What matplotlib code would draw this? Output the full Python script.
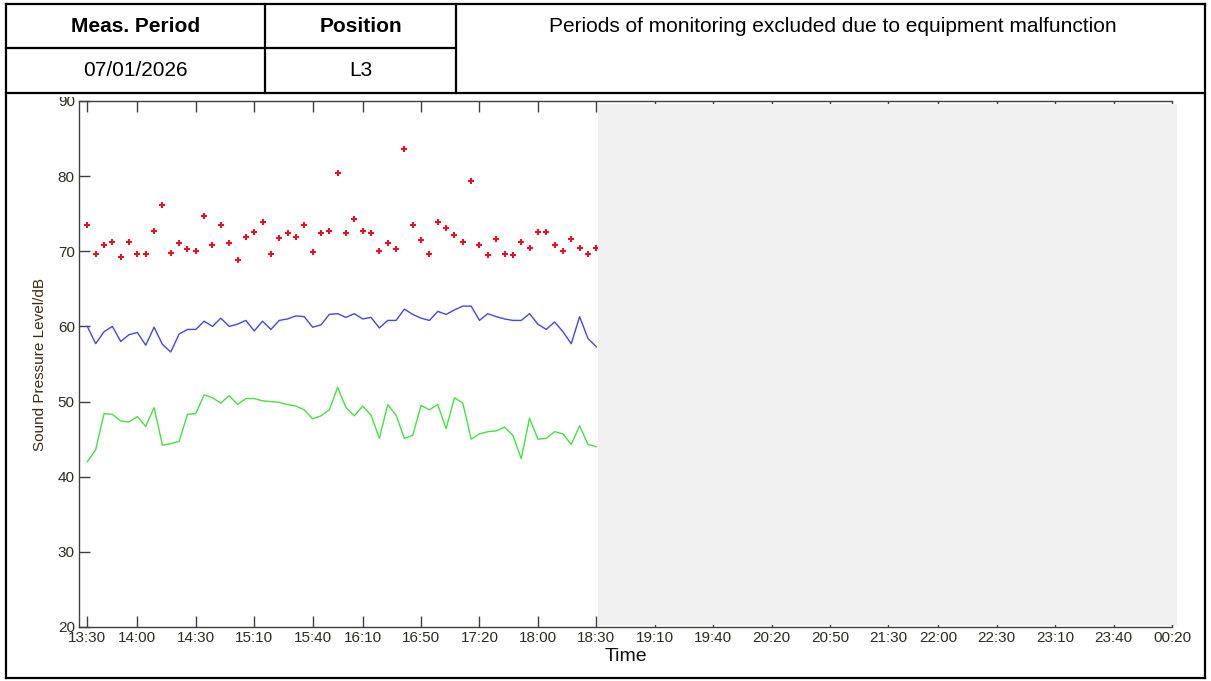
import matplotlib
matplotlib.use("Agg")
import matplotlib.pyplot as plt
from matplotlib import font_manager
from matplotlib.lines import Line2D
from matplotlib.patches import Rectangle

# ---- data -------------------------------------------------------------
meas_period = "07/01/2026"
position = "L3"
note = "Periods of monitoring excluded due to equipment malfunction"

tick_index = [0, 6, 13, 20, 27, 33, 40, 47, 54, 61,
              68, 75, 82, 89, 96, 102, 109, 116, 123, 130]
tick_labels = ["13:30", "14:00", "14:30", "15:10", "15:40", "16:10", "16:50",
               "17:20", "18:00", "18:30", "19:10", "19:40", "20:20", "20:50",
               "21:30", "22:00", "22:30", "23:10", "23:40", "00:20"]

lmax = [73.5, 69.7, 70.9, 71.3, 69.3, 71.3, 69.7, 69.7, 72.7, 76.2,
        69.8, 71.1, 70.3, 70.0, 74.7, 70.8, 73.5, 71.1, 68.9, 71.9,
        72.6, 73.9, 69.6, 71.8, 72.5, 71.9, 73.5, 69.9, 72.4, 72.7,
        80.4, 72.4, 74.3, 72.7, 72.4, 70.0, 71.1, 70.3, 83.6, 73.5,
        71.5, 69.7, 73.9, 73.1, 72.2, 71.2, 79.3, 70.8, 69.5, 71.6,
        69.7, 69.5, 71.3, 70.5, 72.6, 72.6, 70.9, 70.0, 71.6, 70.4,
        69.7, 70.4]

leq = [60.0, 57.7, 59.3, 60.0, 58.0, 58.9, 59.2, 57.5, 59.9, 57.6,
       56.6, 59.0, 59.6, 59.6, 60.7, 60.0, 61.1, 60.0, 60.3, 60.8,
       59.4, 60.7, 59.6, 60.8, 61.0, 61.4, 61.3, 59.9, 60.2, 61.6,
       61.7, 61.2, 61.7, 61.0, 61.2, 59.8, 60.8, 60.8, 62.3, 61.6,
       61.1, 60.8, 62.0, 61.6, 62.2, 62.7, 62.7, 60.8, 61.7, 61.3,
       61.0, 60.8, 60.8, 61.7, 60.3, 59.6, 60.6, 59.3, 57.7, 61.3,
       58.4, 57.3]

l90 = [42.0, 43.6, 48.4, 48.3, 47.4, 47.3, 48.0, 46.7, 49.2, 44.2,
       44.4, 44.7, 48.3, 48.4, 50.9, 50.5, 49.8, 50.8, 49.6, 50.4,
       50.4, 50.1, 50.0, 49.9, 49.6, 49.4, 48.9, 47.7, 48.1, 48.9,
       51.9, 49.2, 48.1, 49.4, 48.2, 45.1, 49.6, 48.2, 45.1, 45.5,
       49.5, 48.9, 49.6, 46.4, 50.5, 49.8, 45.0, 45.7, 46.0, 46.1,
       46.6, 45.5, 42.4, 47.8, 45.0, 45.1, 46.0, 45.7, 44.3, 46.8,
       44.3, 44.0]

excluded_from = 61.2   # sample index where the excluded period starts
excluded_to = 130.6

# ---- figure -----------------------------------------------------------
W, H = 1211, 681
fig = plt.figure(figsize=(W / 100, H / 100), dpi=100)
fig.patch.set_facecolor("white")

installed = {f.name for f in font_manager.fontManager.ttflist}
if "Liberation Sans Narrow" in installed:
    head_family, head_size = "Liberation Sans Narrow", 18
else:
    head_family, head_size = "Liberation Sans", 15


def fx(x):
    return x / W


def fy(y):
    return 1 - y / H


# chart axes
ax = fig.add_axes([fx(79), fy(627), (1172 - 79) / W, (627 - 101) / H])
x = list(range(len(lmax)))
ax.plot(x, leq, color="#4646e0", lw=1.0, zorder=2)
ax.plot(x, l90, color="#46e046", lw=1.0, zorder=2)
ax.plot(x, lmax, linestyle="none", marker="P", markersize=4.6,
        color="#ee1020", markeredgewidth=0, zorder=2)

ax.set_xlim(-1, 130)
ax.set_ylim(20, 90)
ax.set_xticks(tick_index)
ax.set_xticklabels(tick_labels)
ax.set_yticks(range(20, 91, 10))

tick_color = "#2c2c1e"
ax.tick_params(axis="both", direction="in", length=8, width=1.0,
               color="#404040", labelsize=11, labelcolor=tick_color,
               labelfontfamily="Liberation Sans")
ax.tick_params(axis="x", top=True, pad=3)
ax.tick_params(axis="y", pad=3)
for side, sp in ax.spines.items():
    sp.set_color("#404040")
    sp.set_linewidth(1.0)
ax.spines["right"].set_visible(False)

ax.set_xlabel("Time", fontsize=14, family="Liberation Sans", color="#111111",
              labelpad=2)
ax.set_ylabel("Sound Pressure Level/dB", fontsize=11, family="Liberation Sans",
              color="#3b2c16", labelpad=8)

# excluded monitoring period
ax.add_patch(Rectangle((excluded_from, 20.3), excluded_to - excluded_from,
                       89.6 - 20.3, facecolor="#f0f0f0", edgecolor="none",
                       clip_on=False, zorder=3))

# ---- header table ------------------------------------------------------
fig.add_artist(Rectangle((0, fy(97)), 1, 1 - fy(97), transform=fig.transFigure,
                         facecolor="white", edgecolor="none", zorder=5))

L, R, T, B = 6, 1205, 4, 678
row_mid, row_bot = 48, 93
c1, c2 = 265, 456
segs = [
    ((L, T), (R, T)), ((L, B), (R, B)), ((L, T), (L, B)), ((R, T), (R, B)),
    ((L, row_mid), (c2, row_mid)), ((L, row_bot), (R, row_bot)),
    ((c1, T), (c1, row_bot)), ((c2, T), (c2, row_bot)),
]
for (xa, ya), (xb, yb) in segs:
    fig.add_artist(Line2D([fx(xa), fx(xb)], [fy(ya), fy(yb)],
                          transform=fig.transFigure, color="black", lw=1.6,
                          solid_capstyle="projecting", zorder=6))

cell_y1 = (T + row_mid) / 2
cell_y2 = (row_mid + row_bot) / 2
fig.text(fx((L + c1) / 2), fy(cell_y1), "Meas. Period", ha="center",
         va="center", fontsize=head_size, fontweight="bold",
         family=head_family, zorder=7)
fig.text(fx((c1 + c2) / 2), fy(cell_y1), "Position", ha="center",
         va="center", fontsize=head_size, fontweight="bold",
         family=head_family, zorder=7)
fig.text(fx((L + c1) / 2), fy(cell_y2), meas_period, ha="center",
         va="center", fontsize=head_size, family=head_family, zorder=7)
fig.text(fx((c1 + c2) / 2), fy(cell_y2), position, ha="center",
         va="center", fontsize=head_size, family=head_family, zorder=7)
fig.text(fx(833), fy(cell_y1), note, ha="center", va="center",
         fontsize=head_size, family=head_family, zorder=7)

fig.savefig("out.png", dpi=100)
